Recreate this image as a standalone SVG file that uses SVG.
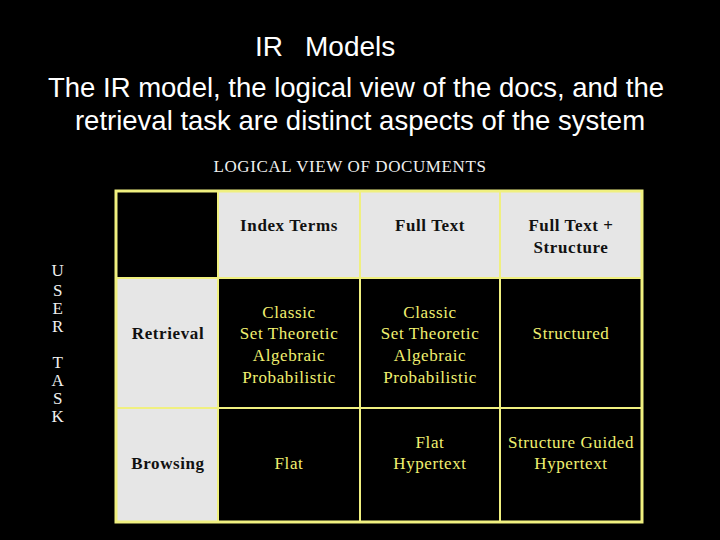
<svg xmlns="http://www.w3.org/2000/svg" width="720" height="540" viewBox="0 0 720 540" xml:space="preserve">
<style>
.t{font-family:"Liberation Sans",Arial,sans-serif;fill:#fff}
.s{font-family:"Liberation Serif","Times New Roman",serif;font-size:17px;text-anchor:middle;letter-spacing:0.6px}
.w{fill:#f0f0f0}
.d{fill:#111;font-weight:bold}
.y{fill:#f0f070}
.g{fill:#e6e6e6;stroke:#f0f080;stroke-width:2}
.k{fill:#000;stroke:#f0f080;stroke-width:2}
</style>
<rect width="720" height="540" fill="#000"/>
<g id="title">
<text class="t" x="255" y="56" font-size="28">IR<tspan x="305">Models</tspan></text>
<text class="t" x="356" y="97" font-size="27.5" text-anchor="middle">The IR model, the logical view of the docs, and the</text>
<text class="t" x="360" y="130" font-size="27.5" text-anchor="middle">retrieval task are distinct aspects of the system</text>
<text class="s w" x="350" y="172" font-size="15" letter-spacing="1">LOGICAL   VIEW   OF   DOCUMENTS</text>
<text class="s w" x="58" y="276" font-size="15">U</text>
<text class="s w" x="58" y="296" font-size="15">S</text>
<text class="s w" x="58" y="314" font-size="15">E</text>
<text class="s w" x="58" y="332" font-size="15">R</text>
<text class="s w" x="58" y="368" font-size="15">T</text>
<text class="s w" x="58" y="386" font-size="15">A</text>
<text class="s w" x="58" y="404" font-size="15">S</text>
<text class="s w" x="58" y="422" font-size="15">K</text>
</g>
<g id="table">
<rect class="k" x="116" y="191" width="102" height="87"/>
<rect class="g" x="218" y="191" width="142" height="87"/>
<rect class="g" x="360" y="191" width="140" height="87"/>
<rect class="g" x="500" y="191" width="142" height="87"/>
<rect class="g" x="116" y="278" width="102" height="130"/>
<rect class="k" x="218" y="278" width="142" height="130"/>
<rect class="k" x="360" y="278" width="140" height="130"/>
<rect class="k" x="500" y="278" width="142" height="130"/>
<rect class="g" x="116" y="408" width="102" height="114"/>
<rect class="k" x="218" y="408" width="142" height="114"/>
<rect class="k" x="360" y="408" width="140" height="114"/>
<rect class="k" x="500" y="408" width="142" height="114"/>
<rect x="116" y="191" width="526" height="331" fill="none" stroke="#f0f080" stroke-width="3"/>
<text class="s d" x="289" y="231">Index  Terms</text>
<text class="s d" x="430" y="231">Full Text</text>
<text class="s d" x="571" y="231">Full Text +</text>
<text class="s d" x="571" y="253">Structure</text>
<text class="s d" x="168" y="339">Retrieval</text>
<text class="s d" x="168" y="469">Browsing</text>
<text class="s y" x="289" y="318">Classic</text>
<text class="s y" x="289" y="339">Set Theoretic</text>
<text class="s y" x="289" y="361">Algebraic</text>
<text class="s y" x="289" y="383">Probabilistic</text>
<text class="s y" x="430" y="318">Classic</text>
<text class="s y" x="430" y="339">Set Theoretic</text>
<text class="s y" x="430" y="361">Algebraic</text>
<text class="s y" x="430" y="383">Probabilistic</text>
<text class="s y" x="571" y="339">Structured</text>
<text class="s y" x="289" y="469">Flat</text>
<text class="s y" x="430" y="448">Flat</text>
<text class="s y" x="430" y="469">Hypertext</text>
<text class="s y" x="571" y="448">Structure Guided</text>
<text class="s y" x="571" y="469">Hypertext</text>
</g>
</svg>
